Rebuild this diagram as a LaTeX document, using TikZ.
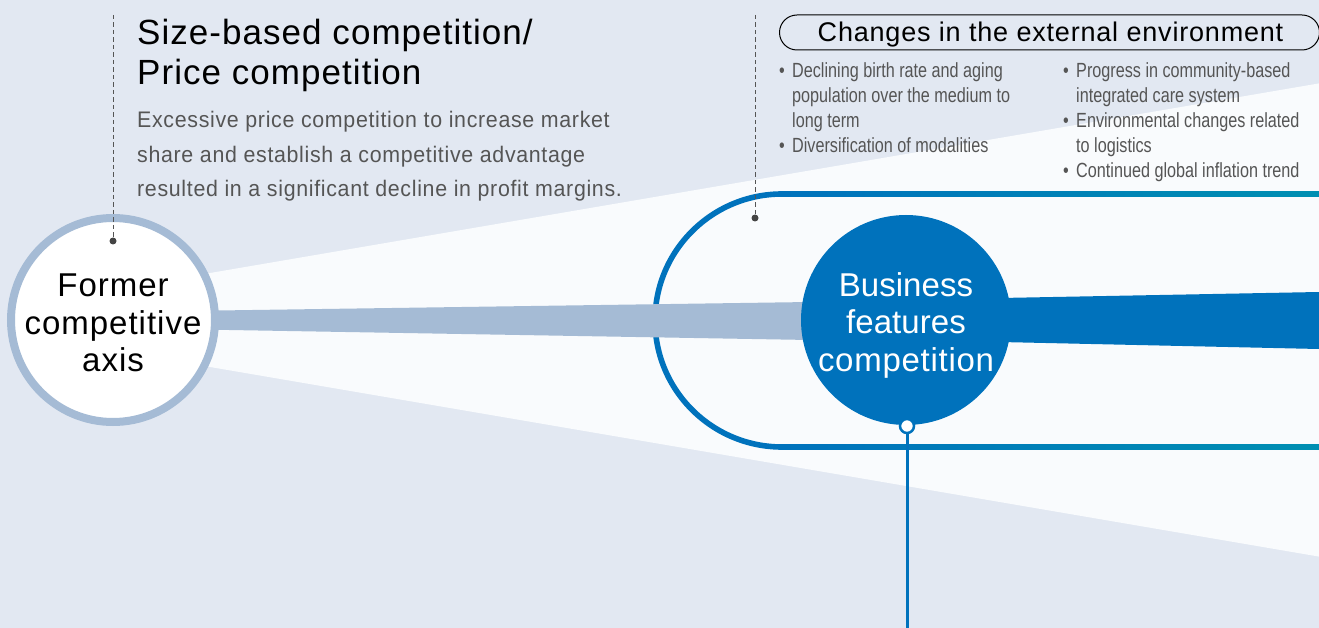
\documentclass[tikz,border=0pt]{standalone}
\usepackage{fontspec}
\setmainfont{Liberation Sans}
\newfontfamily\headfont[LetterSpace=3]{Liberation Sans}
\newfontfamily\tightfont[LetterSpace=0.2]{Liberation Sans}
\newfontfamily\midfont[LetterSpace=2.2]{Liberation Sans}
\newfontfamily\bodyfont[FakeStretch=0.95,LetterSpace=3]{Liberation Sans}
\newfontfamily\bulletfont[FakeStretch=0.79]{Liberation Sans}
\definecolor{bgblue}{HTML}{E2E8F2}
\definecolor{fanwhite}{HTML}{F9FBFD}
\definecolor{steel}{HTML}{A5BBD5}
\definecolor{corp}{HTML}{0072BC}
\definecolor{teal}{HTML}{008FB2}
\definecolor{greytext}{HTML}{555555}
\definecolor{leadgrey}{HTML}{444444}
\tikzset{
  x=1pt,y=-1pt,
  headtext/.style={anchor=base west,inner sep=0pt,font=\headfont\fontsize{35}{40}\selectfont,text=black,align=left},
  bodytext/.style={anchor=base west,inner sep=0pt,font=\bodyfont\fontsize{22.5}{34.5}\selectfont,text=greytext,align=left},
  bullettext/.style={anchor=base west,inner sep=0pt,font=\bulletfont\fontsize{20.5}{25}\selectfont,text=greytext,align=left},
  circletext/.style={font=\headfont\fontsize{33}{37.5}\selectfont,align=center},
  leader/.style={draw=greytext,line width=1pt,dash pattern=on 4.5pt off 3pt},
  leaderdot/.style={circle,fill=leadgrey,inner sep=0pt,minimum size=7pt},
}
\newcommand{\bul}{\makebox[13pt][l]{•}}
\newcommand{\ind}{\hspace*{13pt}}
\begin{document}
\begin{tikzpicture}
\useasboundingbox (0,0) rectangle (1319,628);
\fill[bgblue] (0,0) rectangle (1319,628);
% fan
\fill[fanwhite] (113,289.6) -- (1319,83.4) -- (1319,556.6) -- (113,350.4) -- cycle;
% stadium
\draw[corp,line width=5.6pt] (782,194) .. controls (712,194) and (655,250.6) .. (655,320.5) .. controls (655,390.4) and (712,447) .. (782,447);
\shade[left color=corp,right color=teal] (781,191.2) rectangle (1319,196.8);
\shade[left color=corp,right color=teal] (781,444.2) rectangle (1319,449.8);
% bars
\fill[steel] (113,312) -- (810,302) -- (810,340) -- (113,328) -- cycle;
\fill[corp] (1000,298) -- (1319,292) -- (1319,349) -- (1000,342) -- cycle;
% circles
\node[circle,draw=steel,fill=white,line width=8pt,minimum size=204pt,inner sep=0pt,label={[circletext,yshift=-3pt]center:Former\\competitive\\axis}] (former) at (113,320) {};
\node[circle,fill=corp,minimum size=210pt,inner sep=0pt,label={[circletext,text=white,yshift=-5pt]center:{\tightfont Business}\\{\tightfont features}\\{\midfont competition}}] (business) at (906,320) {};
% stem
\coordinate (stemend) at (907,628);
\node[circle,draw=corp,fill=white,line width=2.5pt,minimum size=14pt,inner sep=0pt] (knob) at (907,426) {};
\draw[corp,line width=3pt] (knob) -- (stemend);
% leaders
\node[leaderdot] (dotA) at (113,241) {};
\coordinate (topA) at (113,15);
\draw[leader] (topA) -- (dotA);
\node[leaderdot] (dotB) at (755,218) {};
\coordinate (topB) at (755,15);
\draw[leader] (topB) -- (dotB);
% heading text
\node[headtext] (head) at (137,85) {Size-based competition/\\Price competition};
\node[bodytext] (body) at (137,197) {Excessive price competition to increase market\\share and establish a competitive advantage\\resulted in a significant decline in profit margins.};
% pill
\node[draw=black,line width=1pt,rounded corners=17.5pt,minimum width=540pt,minimum height=35pt,inner sep=0pt,label={[font=\headfont\fontsize{27}{32}\selectfont,inner sep=0pt,yshift=-2.5pt,xshift=1pt]center:Changes in the external environment}] (pill) at (1049.5,32.5) {};
% bullets
\node[bullettext] (b1) at (779,127.5) {\bul Declining birth rate and aging\\\ind population over the medium to\\\ind long term};
\node[bullettext] (b2) at (779,152.5) {\bul Diversification of modalities};
\node[bullettext] (b3) at (1063,102.5) {\bul Progress in community-based\\\ind integrated care system};
\node[bullettext] (b4) at (1063,152.5) {\bul Environmental changes related\\\ind to logistics};
\node[bullettext] (b5) at (1063,177.5) {\bul Continued global inflation trend};
\end{tikzpicture}
\end{document}
